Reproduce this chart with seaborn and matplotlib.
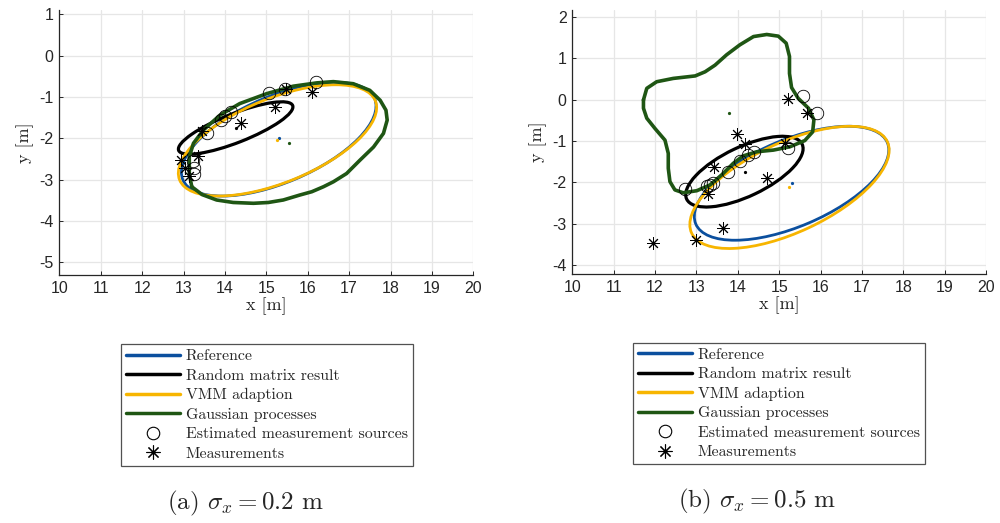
import matplotlib

matplotlib.use("Agg")
import matplotlib.pyplot as plt
import numpy as np
import pandas as pd
import seaborn as sns
from matplotlib.lines import Line2D
from matplotlib.patches import Ellipse

sns.set_theme(style="whitegrid")
plt.rcParams["mathtext.fontset"] = "cm"
plt.rcParams["axes.unicode_minus"] = False

BLUE = "#0b4f9e"
BLACK = "#000000"
YELLOW = "#f7b500"
GREEN = "#1f5614"

# ellipses: center x, center y, full width, full height, angle (deg)
ref_ellipse = (15.30, -2.02, 5.03, 2.09, 23)
rm_a = (14.26, -1.75, 2.96, 0.70, 21.5)
vmm_a = (15.27, -2.05, 5.10, 2.04, 22)
rm_b = (14.16, -1.74, 3.09, 1.19, 25.4)
vmm_b = (15.25, -2.12, 5.22, 2.16, 25)

# Gaussian process contours
gp_a_x = [13.20, 13.45, 13.80, 14.20, 14.69, 15.05, 15.41, 15.81, 16.10, 16.38,
          16.62, 16.94, 17.26, 17.59, 17.83, 17.92, 17.89, 17.75, 17.50, 17.10,
          16.62, 16.22, 15.65, 15.01, 14.36, 13.88, 13.48, 13.24, 13.14, 13.14]
gp_a_y = [-3.17, -3.36, -3.49, -3.55, -3.57, -3.55, -3.49, -3.37, -3.29, -3.17,
          -3.05, -2.85, -2.53, -2.21, -1.88, -1.56, -1.32, -1.08, -0.84, -0.68,
          -0.63, -0.66, -0.74, -0.92, -1.16, -1.44, -1.80, -2.12, -2.45, -2.85]

gp_b_x = [11.72, 11.80, 12.04, 12.44, 12.97, 13.21, 13.45, 13.73, 14.05, 14.38,
          14.70, 14.98, 15.17, 15.25, 15.25, 15.30, 15.46, 15.71, 15.84, 15.81,
          15.62, 15.26, 14.86, 14.46, 14.13, 13.89, 13.61, 13.33, 13.01, 12.68,
          12.48, 12.36, 12.32, 12.32, 12.24, 12.00, 11.80, 11.72]
gp_b_y = [-0.01, 0.27, 0.43, 0.51, 0.57, 0.67, 0.83, 1.08, 1.32, 1.52,
          1.57, 1.53, 1.36, 1.04, 0.63, 0.29, 0.03, -0.21, -0.49, -0.78,
          -0.99, -1.14, -1.22, -1.26, -1.36, -1.54, -1.82, -2.06, -2.20, -2.25,
          -2.18, -1.98, -1.66, -1.30, -0.98, -0.70, -0.45, -0.21]

# estimated measurement sources
src_a_x = [16.20, 15.07, 15.46, 14.14, 14.00, 13.90, 13.56, 13.22, 13.25, 13.25]
src_a_y = [-0.64, -0.90, -0.82, -1.36, -1.46, -1.56, -1.88, -2.55, -2.72, -2.85]
src_b_x = [12.72, 13.25, 13.33, 13.41, 13.77, 14.05, 14.25, 14.40, 15.22, 15.58, 15.92]
src_b_y = [-2.15, -2.09, -2.07, -2.02, -1.74, -1.49, -1.34, -1.26, -1.16, 0.09, -0.33]

# measurements
meas_a_x = [16.10, 15.21, 14.39, 13.45, 12.95, 13.36, 13.04, 13.14, 15.47]
meas_a_y = [-0.88, -1.25, -1.64, -1.83, -2.52, -2.42, -2.71, -2.90, -0.82]
meas_b_x = [13.99, 14.17, 13.43, 14.70, 13.27, 15.14, 15.22, 15.68, 11.96, 12.99, 13.64]
meas_b_y = [-0.83, -1.08, -1.62, -1.90, -2.29, -1.06, 0.01, -0.33, -3.45, -3.39, -3.09]

# centers of the extent estimates (tiny dots)
ctr_a = {"ref": (15.31, -2.00), "rm": (14.26, -1.75), "vmm": (15.27, -2.04), "gp": (15.54, -2.12)}
ctr_b = {"ref": (15.32, -2.01), "rm": (14.17, -1.74), "vmm": (15.25, -2.12), "gp": (13.78, -0.33)}

STAR = (8, 2, 0)
TICK_FONT = "Liberation Sans"
SERIF = "cmr10"


def draw_panel(ax, rm, vmm, gp_x, gp_y, src_x, src_y, meas_x, meas_y, ctr, ylim, yticks):
    for params, color, lw, z in [(ref_ellipse, BLUE, 2.0, 2), (rm, BLACK, 2.3, 3), (vmm, YELLOW, 2.0, 4)]:
        cx, cy, w, h, ang = params
        ax.add_patch(Ellipse((cx, cy), w, h, angle=ang, fill=False, edgecolor=color, lw=lw, zorder=z))
    gp = pd.DataFrame({"x": gp_x + gp_x[:1], "y": gp_y + gp_y[:1]})
    sns.lineplot(data=gp, x="x", y="y", sort=False, estimator=None, color=GREEN, lw=2.6, ax=ax,
                 zorder=5, solid_joinstyle="round")
    ax.plot(src_x, src_y, ls="none", marker="o", ms=9, mfc="none", mec="black", mew=0.6, zorder=6)
    ax.plot(meas_x, meas_y, ls="none", marker=STAR, ms=9, mec="black", mew=0.7, zorder=6)
    for key, color in [("ref", BLUE), ("rm", BLACK), ("vmm", YELLOW), ("gp", GREEN)]:
        ax.plot(*ctr[key], ls="none", marker="o", ms=1.3, color=color, zorder=6)

    ax.set_xlim(10, 20)
    ax.set_ylim(*ylim)
    ax.set_xticks(range(10, 21))
    ax.set_yticks(yticks)
    ax.set_xticklabels([str(t) for t in range(10, 21)], family=TICK_FONT, fontsize=11.5, color="#262626")
    ax.set_yticklabels([str(t) for t in yticks], family=TICK_FONT, fontsize=11.5, color="#262626")
    ax.set_xlabel("x [m]", family=SERIF, fontsize=13, color="#262626", labelpad=1)
    ax.set_ylabel("y [m]", family=SERIF, fontsize=13, color="#262626", labelpad=4)
    ax.set_facecolor("white")
    ax.grid(True, color="#e6e6e6", lw=0.9)
    for side in ["top", "right"]:
        ax.spines[side].set_visible(False)
    for side in ["left", "bottom"]:
        ax.spines[side].set_color("#262626")
        ax.spines[side].set_linewidth(0.9)
    ax.tick_params(direction="in", length=3, width=0.7, color="#262626", pad=4,
                   left=True, bottom=True)


def add_legend(fig, x, y):
    handles = [
        Line2D([], [], color=BLUE, lw=2.5),
        Line2D([], [], color=BLACK, lw=2.5),
        Line2D([], [], color=YELLOW, lw=2.5),
        Line2D([], [], color=GREEN, lw=2.5),
        Line2D([], [], ls="none", marker="o", ms=9, mfc="none", mec="black", mew=0.8),
        Line2D([], [], ls="none", marker=STAR, ms=10, mec="black", mew=0.8),
    ]
    labels = ["Reference", "Random matrix result", "VMM adaption", "Gaussian processes",
              "Estimated measurement sources", "Measurements"]
    leg = fig.legend(handles, labels, loc="upper left", bbox_to_anchor=(x, y),
                     prop={"family": SERIF, "size": 11.4}, frameon=True, fancybox=False,
                     edgecolor="#262626", handlelength=3.4, handletextpad=0.4,
                     labelspacing=0.34, borderpad=0.32, borderaxespad=0)
    leg.get_frame().set_linewidth(0.9)


fig = plt.figure(figsize=(10, 5.23), dpi=100)
ax_a = fig.add_axes([0.0593, 0.4736, 0.414, 0.5072])
ax_b = fig.add_axes([0.5723, 0.4761, 0.4137, 0.5047])

draw_panel(ax_a, rm_a, vmm_a, gp_a_x, gp_a_y, src_a_x, src_a_y, meas_a_x, meas_a_y,
           ctr_a, (-5.31, 1.10), [-5, -4, -3, -2, -1, 0, 1])
draw_panel(ax_b, rm_b, vmm_b, gp_b_x, gp_b_y, src_b_x, src_b_y, meas_b_x, meas_b_y,
           ctr_b, (-4.21, 2.16), [-4, -3, -2, -1, 0, 1, 2])

add_legend(fig, 0.1207, 1 - 344 / 523)
add_legend(fig, 0.6327, 1 - 342.7 / 523)

fig.text(0.245, 1 - 503 / 523, r"(a) $\sigma_x = 0.2$ m", family=SERIF, fontsize=18,
         ha="center", va="center")
fig.text(0.7575, 1 - 501 / 523, r"(b) $\sigma_x = 0.5$ m", family=SERIF, fontsize=18,
         ha="center", va="center")

fig.savefig("out.png", dpi=100, facecolor="white")
